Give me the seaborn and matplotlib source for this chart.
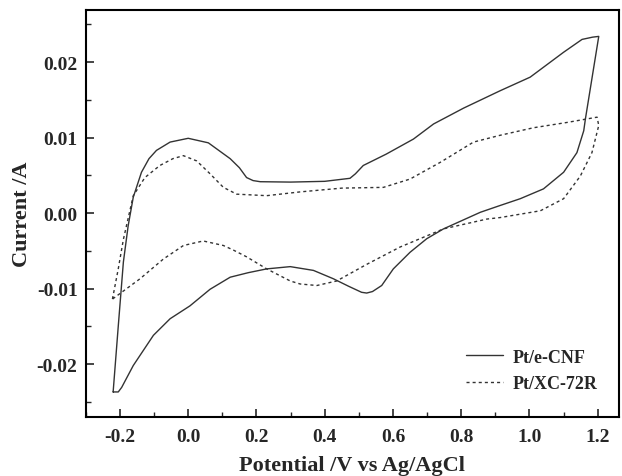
import matplotlib
matplotlib.use("Agg")
import matplotlib.pyplot as plt
from matplotlib.ticker import MultipleLocator
import seaborn as sns
import pandas as pd

# === Data (potential V, current A) ===
cnf_potential = [-0.220, -0.205, -0.190, -0.176, -0.161, -0.137, -0.115, -0.093, -0.053, 0.000,
                 0.059, 0.123, 0.150, 0.171, 0.190, 0.211, 0.300, 0.400, 0.474, 0.490,
                 0.513, 0.580, 0.660, 0.719, 0.807, 0.914, 1.002, 1.100, 1.154, 1.185, 1.203,
                 1.164, 1.159, 1.139, 1.100, 1.041, 0.973, 0.914, 0.856, 0.748, 0.699,
                 0.650, 0.601, 0.567, 0.540, 0.523, 0.508, 0.470, 0.425, 0.367, 0.299,
                 0.230, 0.176, 0.123, 0.064, 0.005, -0.053, -0.102, -0.161, -0.195, -0.205, -0.220]
cnf_current = [-0.0237, -0.0150, -0.0065, -0.0017, 0.0021, 0.0054, 0.0072, 0.0083, 0.0094, 0.0099,
               0.0093, 0.0072, 0.0060, 0.0047, 0.0043, 0.00415, 0.0041, 0.0042, 0.0046, 0.0052,
               0.0063, 0.0078, 0.0098, 0.0118, 0.0139, 0.0162, 0.0180, 0.0213, 0.0230, 0.0233, 0.0234,
               0.0125, 0.0109, 0.0080, 0.0054, 0.0032, 0.0019, 0.0010, 0.0001, -0.0021, -0.0034,
               -0.0052, -0.0074, -0.0096, -0.0104, -0.0106, -0.0105, -0.0097, -0.0087, -0.0076, -0.0071,
               -0.0074, -0.0079, -0.0085, -0.0101, -0.0123, -0.0140, -0.0162, -0.0202, -0.0231, -0.0237, -0.0237]

xc_potential = [-0.222, -0.205, -0.190, -0.161, -0.127, -0.083, -0.045, -0.014, 0.025, 0.064,
                0.103, 0.142, 0.230, 0.328, 0.450, 0.572, 0.650, 0.738, 0.836, 0.914,
                1.012, 1.110, 1.198,
                1.203, 1.183, 1.149, 1.100, 1.032, 0.914, 0.875, 0.748, 0.621, 0.523,
                0.435, 0.377, 0.328, 0.299, 0.230, 0.171, 0.132, 0.103, 0.044, -0.014,
                -0.073, -0.141, -0.195, -0.222]
xc_current = [-0.0114, -0.0074, -0.0035, 0.0023, 0.0047, 0.0063, 0.0072, 0.0076, 0.0069, 0.0052,
              0.0034, 0.0025, 0.0023, 0.0028, 0.0033, 0.0034, 0.0045, 0.0067, 0.0094, 0.0103,
              0.0113, 0.0120, 0.0127,
              0.0116, 0.0080, 0.0049, 0.0019, 0.0003, -0.0006, -0.0008, -0.0021, -0.0045, -0.0068,
              -0.0090, -0.0096, -0.0094, -0.0090, -0.0074, -0.0058, -0.0049, -0.0043, -0.0037, -0.0043,
              -0.0061, -0.0087, -0.0105, -0.0114]

labels = ["Pt/e-CNF", "Pt/XC-72R"]

sns.set_style("ticks")
plt.rcParams["font.family"] = ["Liberation Serif", "DejaVu Serif"]
plt.rcParams["font.weight"] = "bold"

df_cnf = pd.DataFrame({"x": cnf_potential, "y": cnf_current})
df_xc = pd.DataFrame({"x": xc_potential, "y": xc_current})

fig = plt.figure(figsize=(6.22, 4.77), dpi=100)
ax = fig.add_axes([0.138, 0.124, 0.857, 0.853])

sns.lineplot(data=df_cnf, x="x", y="y", sort=False, estimator=None, ax=ax,
             color="#333333", linewidth=1.0, label=labels[0])
sns.lineplot(data=df_xc, x="x", y="y", sort=False, estimator=None, ax=ax,
             color="#333333", linewidth=1.0, linestyle=(0, (2.2, 2.2)), label=labels[1])

ax.set_xlim(-0.30, 1.262)
ax.set_ylim(-0.027, 0.0269)
ax.xaxis.set_minor_locator(MultipleLocator(0.1))
ax.yaxis.set_minor_locator(MultipleLocator(0.005))
ax.set_xticks([-0.2, 0.0, 0.2, 0.4, 0.6, 0.8, 1.0, 1.2])
ax.set_xticklabels(["-0.2", "0.0", "0.2", "0.4", "0.6", "0.8", "1.0", "1.2"])
ax.set_yticks([-0.02, -0.01, 0.0, 0.01, 0.02])
ax.set_yticklabels(["-0.02", "-0.01", "0.00", "0.01", "0.02"])

ax.tick_params(which="major", direction="in", length=6, width=1.2, labelsize=14)
ax.tick_params(axis="x", which="major", pad=8)
ax.tick_params(axis="y", which="major", pad=6)
ax.tick_params(which="minor", direction="in", length=3.5, width=1.0)
ax.tick_params(top=False, right=False)
for lab in ax.get_xticklabels() + ax.get_yticklabels():
    lab.set_fontweight("bold")
for s in ax.spines.values():
    s.set_linewidth(1.5)
    s.set_color("black")

ax.set_xlabel("Potential /V vs Ag/AgCl", fontsize=16, fontweight="bold", labelpad=7)
ax.set_ylabel("Current /A", fontsize=16, fontweight="bold", labelpad=3)

leg = ax.legend(loc="lower right", bbox_to_anchor=(0.99, 0.02), frameon=False,
                prop={"size": 13, "weight": "bold"}, handlelength=2.0,
                handletextpad=0.55, labelspacing=0.55)

fig.savefig("out.png", dpi=100)
plt.close(fig)
